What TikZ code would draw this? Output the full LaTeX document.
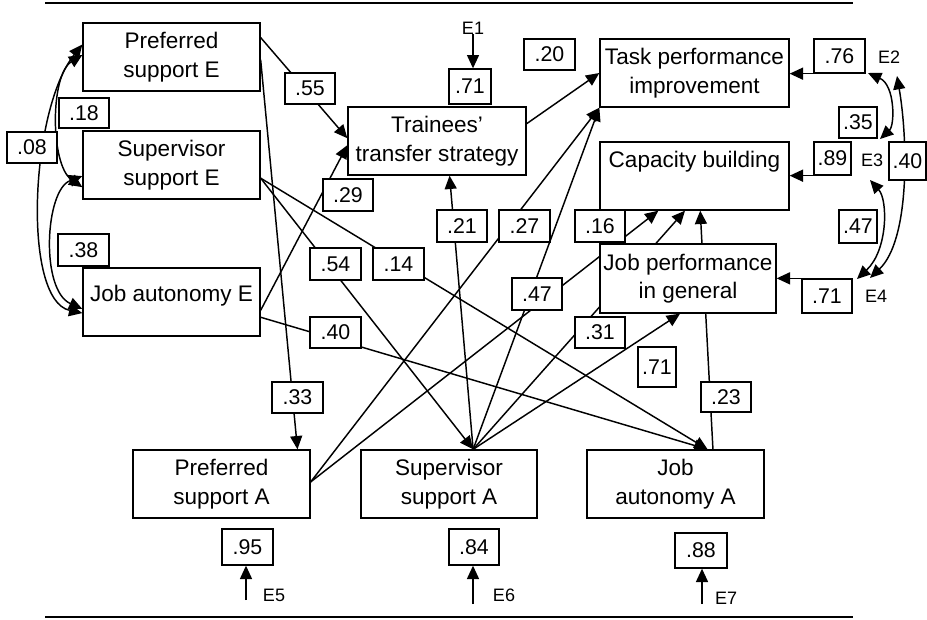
\documentclass[tikz,border=0pt]{standalone}
\usepackage{fontspec}
\setmainfont{Liberation Sans}
\usetikzlibrary{arrows.meta,calc,backgrounds}
\begin{document}
\begin{tikzpicture}[x=0.75pt,y=-0.75pt,
  varbox/.style={draw,fill=white,line width=1pt,minimum width=132.75pt,minimum height=51pt,inner sep=0pt,align=center,font=\fontsize{16.9}{21.5}\selectfont},
  lab/.style 2 args={draw,fill=white,line width=1pt,minimum width=#1*0.75pt,minimum height=#2*0.75pt,inner sep=0pt,font=\fontsize{16}{19}\selectfont},
  etxt/.style={inner sep=0pt,font=\fontsize{13.5}{16}\selectfont},
  arr/.style={line width=1.1pt,-{Triangle[length=10pt,width=9pt]}},
  cov/.style={line width=1.1pt,{Triangle[length=10pt,width=9pt]}-{Triangle[length=10pt,width=9pt]}},
  hrule/.style={line width=2.2pt}]
\useasboundingbox (0,0) rectangle (927,619);

% rules
\draw[hrule] (45,3) -- (853,3);
\draw[hrule] (45,617) -- (853,617);

% main boxes
\node[varbox] (pse) at (171.5,57) {Preferred\\support E};
\node[varbox] (sse) at (171.5,165) {Supervisor\\support E};
\node[varbox,text height=9pt,text depth=10.5pt] (jae) at (171.5,302) {Job autonomy E};
\node[varbox,minimum width=133.5pt] (tts) at (437,141) {Trainees'\\transfer strategy};
\node[varbox,minimum width=141.75pt] (tpi) at (694.5,73) {Task performance\\improvement};
\node[varbox,minimum width=141.75pt,text height=9pt,text depth=22.5pt] (cb) at (694.5,176) {Capacity building};
\node[varbox,minimum width=132pt,minimum height=51.75pt] (jpg) at (688,278.5) {Job performance\\in general};
\node[varbox] (psa) at (221.5,484) {Preferred\\support A};
\node[varbox,minimum width=132pt] (ssa) at (449,484) {Supervisor\\support A};
\node[varbox] (jaa) at (675.5,484) {Job\\autonomy A};

% labels
\node[lab={50}{31}] (l55) at (310,88.5) {.55};
\node[lab={42}{35}] (l71a) at (470,86.5) {.71};
\node[lab={51}{31}] (l20) at (549.5,54.5) {.20};
\node[lab={51}{34}] (l76) at (839.5,56) {.76};
\node[lab={38}{31}] (l35) at (858,122.5) {.35};
\node[lab={37}{33}] (l89) at (832.5,158.5) {.89};
\node[lab={37}{38}] (l40r) at (907.5,161) {.40};
\node[lab={38}{33}] (l47r) at (858,226.5) {.47};
\node[lab={50}{34}] (l71d) at (827,296) {.71};
\node[lab={38}{40}] (l71m) at (657,367) {.71};
\node[lab={50}{30}] (l23) at (726,397) {.23};
\node[lab={52}{35}] (l88) at (701,550.5) {.88};
\node[lab={50}{36}] (l84) at (474,547) {.84};
\node[lab={51}{36}] (l95) at (247.5,547) {.95};
\node[lab={51}{31}] (l33) at (297.5,397.5) {.33};
\node[lab={51}{32}] (l38) at (83.5,250) {.38};
\node[lab={50}{30}] (l18) at (84,113) {.18};
\node[lab={50}{31}] (l08) at (32,147.5) {.08};
\node[lab={50}{32}] (l29) at (348,195) {.29};
\node[lab={50}{32}] (l21) at (462,226) {.21};
\node[lab={51}{32}] (l27) at (524.5,226) {.27};
\node[lab={50}{32}] (l16) at (600,226) {.16};
\node[lab={51}{32}] (l54) at (335.5,264) {.54};
\node[lab={51}{32}] (l14) at (398.5,264) {.14};
\node[lab={50}{32}] (l47m) at (537,294) {.47};
\node[lab={51}{31}] (l40m) at (335.5,332.5) {.40};
\node[lab={50}{31}] (l31) at (600,332.5) {.31};

% error term labels
\node[etxt] (E1) at (473,28) {E1};
\node[etxt] (E2) at (889,57) {E2};
\node[etxt] (E3) at (872,160) {E3};
\node[etxt] (E4) at (876,296) {E4};
\node[etxt] (E5) at (274,595) {E5};
\node[etxt] (E6) at (504,595) {E6};
\node[etxt] (E7) at (726,598) {E7};

% named points
\coordinate (ssatop) at ($(ssa.north west)!0.636!(ssa.north east)$);
\coordinate (psaeast) at ($(psa.north east)!0.47!(psa.south east)$);
\coordinate (sseeast) at ($(sse.north east)!0.69!(sse.south east)$);
\coordinate (jaatop) at ($(jaa.north west)!0.68!(jaa.north east)$);
\coordinate (e5s) at (246,600);
\coordinate (e6s) at (473,604);
\coordinate (e7s) at (702,604);
\coordinate (e2a) at (868,73);
\coordinate (e2b) at (897,76);
\coordinate (e3a) at (880,139);
\coordinate (e3b) at (870,180);
\coordinate (e4a) at (857,279);
\coordinate (e4b) at (870,278);

\begin{pgfonlayer}{background}
% structural paths
\draw[arr] ($(pse.north east)!0.22!(pse.south east)$) -- ($(tts.north west)!0.46!(tts.south west)$);
\draw[arr] ($(jae.north east)!0.62!(jae.south east)$) -- ($(tts.north west)!0.56!(tts.south west)$);
\draw[arr] ($(pse.north east)!0.54!(pse.south east)$) -- ($(psa.north west)!0.926!(psa.north east)$);
\draw[arr] (sseeast) -- (ssatop);
\draw[arr] (sseeast) -- (jaatop);
\draw[arr] ($(jae.north east)!0.72!(jae.south east)$) -- (jaatop);
\draw[arr] ($(tts.north east)!0.25!(tts.south east)$) -- (tpi.west);
\draw[arr] (ssatop) -- ($(tts.south west)!0.57!(tts.south east)$);
\draw[arr] (psaeast) -- (tpi.south west);
\draw[arr] (ssatop) -- (tpi.south west);
\draw[arr] (psaeast) -- ($(cb.south west)!0.31!(cb.south east)$);
\draw[arr] (ssatop) -- ($(cb.south west)!0.45!(cb.south east)$);
\draw[arr] ($(jaa.north west)!0.71!(jaa.north east)$) -- ($(cb.south west)!0.53!(cb.south east)$);
\draw[arr] (ssatop) -- ($(jpg.south west)!0.455!(jpg.south east)$);
% error arrows
\draw[arr] (E1.south) -- (E1.south |- l71a.north);
\draw[arr] (e5s) -- (e5s |- l95.south);
\draw[arr] (e6s) -- (e6s |- l84.south);
\draw[arr] (e7s) -- (e7s |- l88.south);
\draw[arr] (l76.south) -- (l76.south -| tpi.east);
\draw[arr] (l89.south west) -- (l89.south west -| cb.east);
\draw[arr] (l71d.north west) -- (l71d.north west -| jpg.east);
% covariances right
\draw[cov] (e2a) .. controls (895,85) and (895,125) .. (e3a);
\draw[cov] (e2b) .. controls (908,140) and (910,240) .. (e4b);
\draw[cov] (e3b) .. controls (888,200) and (888,250) .. (e4a);
% covariances left
\draw[cov] ($(pse.north west)!0.32!(pse.south west)$) .. controls (30,110) and (22,300) .. ($(jae.north west)!0.66!(jae.south west)$);
\draw[cov] ($(pse.north west)!0.47!(pse.south west)$) .. controls (50,75) and (50,165) .. ($(sse.north west)!0.82!(sse.south west)$);
\draw[cov] ($(sse.north west)!0.66!(sse.south west)$) .. controls (45,190) and (40,290) .. ($(jae.north west)!0.6!(jae.south west)$);
\end{pgfonlayer}
\end{tikzpicture}
\end{document}
